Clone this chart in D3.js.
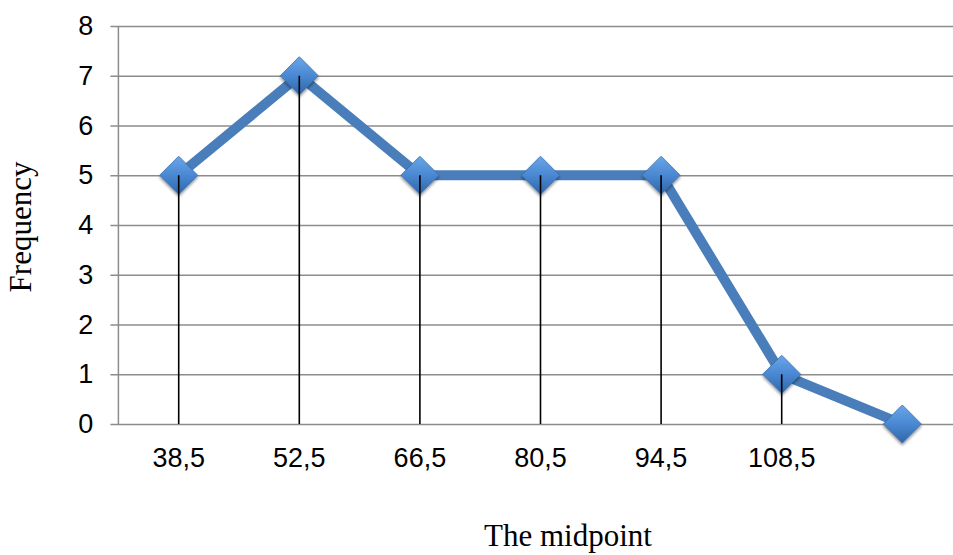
<!DOCTYPE html>
<html>
<head>
<meta charset="utf-8">
<script src="https://cdn.jsdelivr.net/npm/d3@7"></script>
<style>
  html, body { margin: 0; padding: 0; background: #fff; overflow: hidden; }
  svg { display: block; }
</style>
</head>
<body>
<svg id="chart" width="953" height="555"></svg>
<script>
const categories = ["38,5", "52,5", "66,5", "80,5", "94,5", "108,5", "7"];
const categoryLabels = ["38,5", "52,5", "66,5", "80,5", "94,5", "108,5", ""];
const frequency = [5, 7, 5, 5, 5, 1, 0];
const yTicks = [0, 1, 2, 3, 4, 5, 6, 7, 8];
const xTitle = "The midpoint";
const yTitle = "Frequency";

(function () {
const svg = d3.select("#chart");
const mLeft = 118.4, mRight = 962.6, mTop = 26, mBottom = 424;

const x = d3.scaleBand().domain(categories).range([mLeft, mRight]).paddingInner(0).paddingOuter(0);
const y = d3.scaleLinear().domain([0, 8]).range([mBottom, mTop]);
const cx = c => x(c) + x.bandwidth() / 2;

// defs
const defs = svg.append("defs");
const grad = defs.append("linearGradient").attr("id", "dg").attr("x1", 0).attr("y1", 0).attr("x2", 0).attr("y2", 1);
grad.append("stop").attr("offset", "0%").attr("stop-color", "#6aa6e8");
grad.append("stop").attr("offset", "50%").attr("stop-color", "#4a88d2");
grad.append("stop").attr("offset", "100%").attr("stop-color", "#2f66a8");
const sh = defs.append("filter").attr("id", "sh").attr("x", "-50%").attr("y", "-50%").attr("width", "200%").attr("height", "200%");
sh.append("feGaussianBlur").attr("in", "SourceAlpha").attr("stdDeviation", 1.6);
sh.append("feOffset").attr("dx", 0).attr("dy", 2).attr("result", "b");
sh.append("feComponentTransfer").append("feFuncA").attr("type", "linear").attr("slope", 0.45);
const mg = sh.append("feMerge");
mg.append("feMergeNode");
mg.append("feMergeNode").attr("in", "SourceGraphic");

// gridlines
const yAxis = d3.axisLeft(y).tickValues(yTicks).tickSize(-(mRight - mLeft)).tickPadding(17).tickFormat(d3.format("d"));
const gy = svg.append("g").attr("transform", `translate(${mLeft},0)`).call(yAxis);
gy.select(".domain").remove();
gy.selectAll(".tick line").attr("stroke", "#8c8c8c").attr("stroke-width", 1.5).attr("x1", -8).attr("x2", mRight - mLeft);
gy.selectAll(".tick text").attr("font-family", "Liberation Sans, Arial, sans-serif").attr("font-size", 27).attr("fill", "#000").attr("x", -25);

// y axis line
svg.append("line").attr("x1", mLeft).attr("x2", mLeft).attr("y1", mTop).attr("y2", mBottom)
  .attr("stroke", "#8c8c8c").attr("stroke-width", 1.5);

// x axis labels
const xAxis = d3.axisBottom(x).tickSize(0).tickPadding(0).tickFormat((d, i) => categoryLabels[i]);
const gx = svg.append("g").attr("transform", `translate(0,${mBottom})`).call(xAxis);
gx.select(".domain").remove();
gx.selectAll(".tick text").attr("font-family", "Liberation Sans, Arial, sans-serif").attr("font-size", 27).attr("fill", "#000").attr("dy", 0).attr("y", 43);

// series line
const line = d3.line().x((d, i) => cx(categories[i])).y(d => y(d));
svg.append("path").datum(frequency).attr("d", line).attr("fill", "none")
  .attr("stroke", "#4a7ebb").attr("stroke-width", 10).attr("stroke-linejoin", "miter");

// markers
const r = 19;
svg.append("g").selectAll("path").data(frequency).join("path")
  .attr("d", (d, i) => {
    const px = cx(categories[i]), py = y(d);
    return `M${px},${py - r}L${px + r},${py}L${px},${py + r}L${px - r},${py}Z`;
  })
  .attr("fill", "url(#dg)").attr("stroke", "#3a70b0").attr("stroke-width", 0.8).attr("filter", "url(#sh)");

// drop lines
svg.append("g").selectAll("line").data(frequency).join("line")
  .attr("x1", (d, i) => cx(categories[i])).attr("x2", (d, i) => cx(categories[i]))
  .attr("y1", d => y(d)).attr("y2", y(0))
  .attr("stroke", "#000").attr("stroke-width", 1.6);

// titles
svg.append("text").attr("x", 568).attr("y", 546).attr("text-anchor", "middle")
  .attr("font-family", "Liberation Serif, Times New Roman, serif").attr("font-size", 31).attr("fill", "#000").text(xTitle);
svg.append("text").attr("transform", "translate(31,227) rotate(-90)").attr("text-anchor", "middle")
  .attr("font-family", "Liberation Serif, Times New Roman, serif").attr("font-size", 31).attr("fill", "#000").text(yTitle);
})();
</script>
</body>
</html>
